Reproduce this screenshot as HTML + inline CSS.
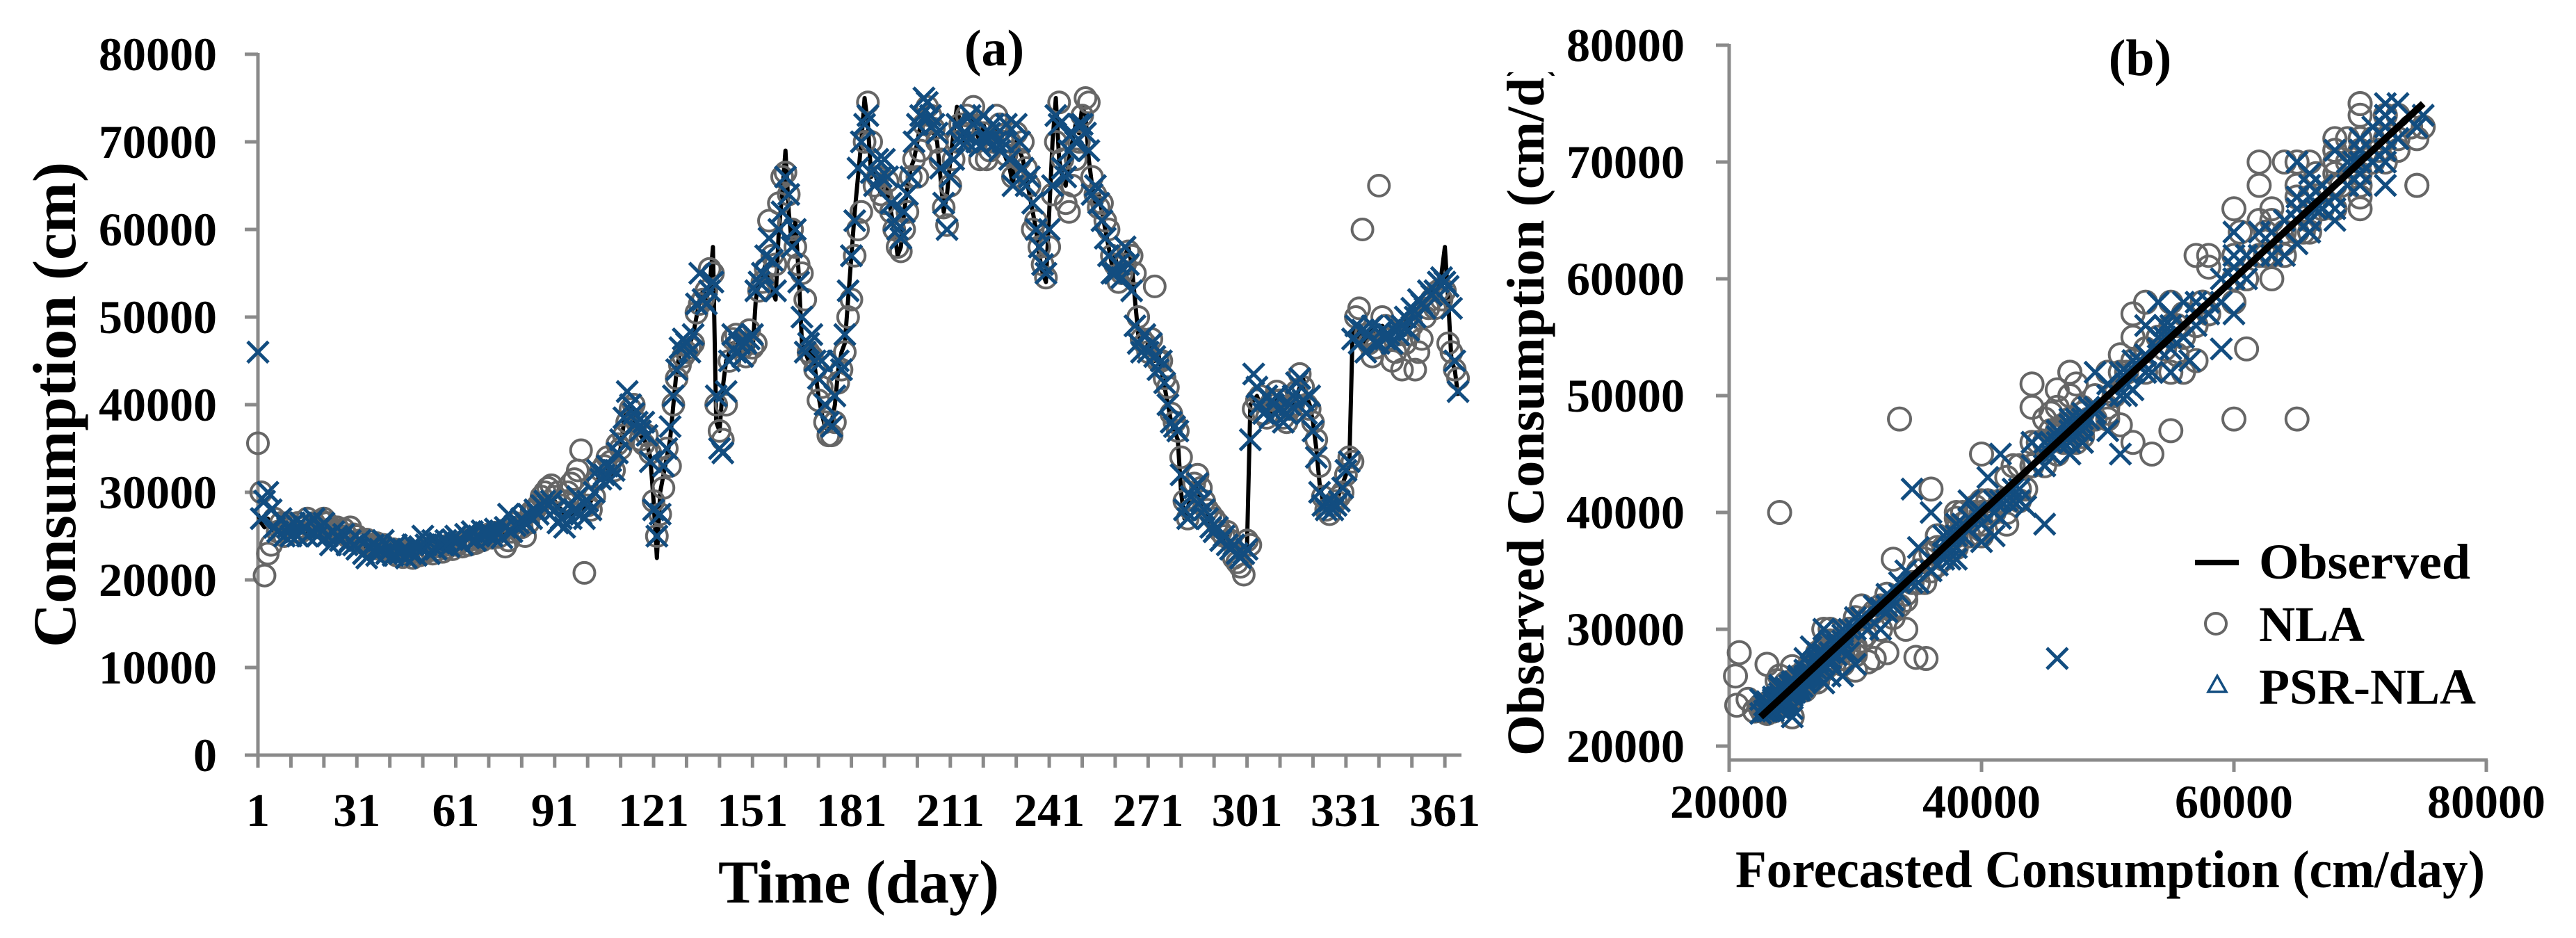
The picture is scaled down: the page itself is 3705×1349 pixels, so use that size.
<!DOCTYPE html>
<html><head><meta charset="utf-8"><style>
html,body{margin:0;padding:0;background:#fff;}
svg{display:block;font-family:"Liberation Serif",serif;font-weight:bold;}
</style></head><body>
<svg id="chart" xmlns="http://www.w3.org/2000/svg" width="3705" height="1349" viewBox="0 0 3705 1349">
<defs><clipPath id="clipb"><rect x="0" y="104" width="3705" height="1245"/></clipPath></defs>
<g id="pa">
<text x="1430" y="94" font-size="74" text-anchor="middle">(a)</text>
<text transform="translate(108,582) rotate(-90)" font-size="88" text-anchor="middle" textLength="698" lengthAdjust="spacingAndGlyphs">Consumption (cm)</text>
<text x="1235" y="1298" font-size="88" text-anchor="middle" textLength="404" lengthAdjust="spacingAndGlyphs">Time (day)</text>
<g id="pa-axes"></g>
<g id="pa-line"></g>
<g id="pa-nla"></g>
<g id="pa-psr"></g>
</g>
<g id="pb">
<text x="3078" y="108" font-size="74" text-anchor="middle">(b)</text>
<g clip-path="url(#clipb)"><text transform="translate(2220,1087) rotate(-90)" font-size="76" text-anchor="start">Observed Consumption (cm/d)</text></g>
<text x="3035" y="1276" font-size="76" text-anchor="middle" textLength="1078" lengthAdjust="spacingAndGlyphs">Forecasted Consumption (cm/day)</text>
<g id="pb-axes"></g>
<g id="pb-nla"></g>
<g id="pb-psr"></g>
<g id="pb-line"></g>
<g id="legend">
<line x1="3157" y1="809" x2="3220" y2="809" stroke="#000" stroke-width="8"/>
<text x="3249" y="832" font-size="72" textLength="304" lengthAdjust="spacingAndGlyphs">Observed</text>
<circle cx="3187" cy="897" r="15" fill="none" stroke="#666" stroke-width="4"/>
<text x="3249" y="922" font-size="72">NLA</text>
<polygon points="3189,972 3202,995 3176,995" fill="none" stroke="#124d80" stroke-width="3.5"/>
<text x="3249" y="1012" font-size="72">PSR-NLA</text>
</g>
</g>
</svg>
<script>
const days = Array.from({length:365},(_, i)=>i+1);
const observed = [
27.5,26.5,26,27,26,25.5,26,26.5,25.5,26, 25.5,26,25.5,26,26.5,25.5,26,26,25.5,25.8,
26,25.5,25.2,25,25.5,25,24.8,24.5,24.8,24.5, 24.2,24,23.8,24,23.5,23.6,23.5,23.2,23.5,23.3,
23.2,23,23.4,23.1,23,22.8,23,23.2,23,23.4, 23.2,23.5,23.3,23.6,23.8,23.5,23.8,24,24.2,24,
24.3,24.5,24.2,24.6,24.5,24.8,24.6,25,24.8,25.2, 25,25.3,25.1,25.5,25.2,25.6,25.4,25.8,26,26.3,
26.5,26.8,27,27.5,27.2,28,28.5,28.2,29,29.5, 29,28.5,28,27.5,27.8,27.2,27.5,28,27.6,28,
28.5,29,30,31.5,32,31.8,32.5,32,33,34, 35,38,39.5,40,38.5,37,36.5,36,35.5,34,
29,22.5,30,32,34,36,40,44,46,47, 46.5,47,48,50,52,53,52,53.5,58,38,
37,42,45,46,47,46.5,47.5,46,47,48, 46,52,54,55,56,54,53,52,60,64,
69,62,58,61,55,47,46,45,47,44, 41,39,37.5,37,38,40,44,46,47,52,
57,62,66,70,75,72,66,67,65,64, 66,64,62,60,57,58,62,65,67,68,
70,72,74,73,72,71,70,66,62,64, 68,71,74,72,70,71,72,73,71,70,
72,71,70,72,71,70,69,68,67,65, 70,69,68,66,64,62,60,57,55,54,
62,70,75,68,66,65,68,70,72,71, 74,73,68,65,63,64,62,60,58,56,
57,55,56,57,58,56,52,48,47,46, 47,46,45,46,44,42,40,38,37,36,
30,27,28,30,31,30,29,28,27,26.5, 26,25.5,25,24.5,25,24,23.5,23,24,23.5,
24,40,40.5,41,40,39.5,40,39,40,41, 40,39,38.5,39,40,41,42,43,41,40,
38,35,31,29,28,28.5,29,28.5,30,31, 32,33,48,48.5,47.5,48,47,48,48.5,47.5,
48,49,48,47.5,48,49,48.5,49,50,49, 50,51,50.5,51,52,52,53,53.5,54,55,
58,52,45,44,41];
const nla = [
35.6,30,20.5,23,24,27,25.5,26.5,25,26.5, 26,25.5,26.5,25.5,26,27,26,26.5,26,26.8,
27,26.5,25.8,25.5,26,25.5,25.8,25,26,25.2, 25,24.5,24.2,24.6,24,23.8,24.2,23.5,24,23.6,
23.2,23.5,22.8,23.4,22.6,23,23.3,22.5,23.2,22.8, 23,23.2,23.6,23,23.4,23.8,23.2,23.6,24,23.5,
24,24.2,23.8,24.5,24,24.6,24.2,24.8,24.5,24.8, 25.2,24.8,25.4,24.9,25.6,23.8,24.5,25.5,26.5,26,
26,25,26.5,27.8,28,28.5,29.5,30,30.5,30.8, 29.5,30,28.5,29,30,31,31.5,32.5,34.8,20.8,
28.5,28,29.5,31.5,32.5,33,34,33.5,32.5,35.5, 35,36.5,38,39.5,40,38,36,35.5,36.5,34.5,
29,25,27.5,30.5,35,33,40,43,44.5,45.5, 46,46.5,47,50.5,51.5,52,53,55.5,55,40,
37,36,40,45,47.5,48,47,46.5,45.5,48.5, 46.5,47,53,54,55.5,61,57,56,63,66,
66.5,64,60,58,56,55,52,46,45.5,44, 40.5,42,38,36.5,36.5,38,42.5,44,46,50,
52,57,60,62,70,74.5,70,65,66,64, 63,65.5,62,60,58,57.5,60,62,66,68,
66,69,72,74,73,71.5,70,68,62.5,60.5, 65,68,70,72,71,73,72,74,70,68,
71,68,69,70,73,72,70,68.5,70,66, 71,68,70,67,65,60,61,58,56,54.5,
58,64,70,74.5,68,63,62,65,68,70, 73,75,74.5,66,64,62.5,63,61,60,57,
56,54,55,56,57.5,57,55,50,47.5,47, 46,47.5,53.5,45,45,43,42,39,38,37,
34,29,27,28,31,32,30.5,29,28,27.5, 27,26.5,25.5,25,25.5,24.5,22.5,22,21.5,20.6,
24.5,24,39.5,40.5,41,39,38.5,40,40.5,41.5, 40.5,38.5,38,39.5,40,41.5,43.5,42,40,39.5,
38,36,33,29.5,28,27.5,28.5,29,29.5,30, 32,34,33.5,50,51,60,48,47,45.5,46.5,
65,50,49,47.5,45,46,48,44,47,48, 49,44,46,47.5,50,51,52,51,53,52,
53,47,46,44,43];
const psr = [
46,27,29,30,28,26,25.5,27,25,26, 25,26.5,25,26.5,26,25,26.5,27,25,26,
26.5,25,24,25.5,25,24.5,25.2,24,24.5,24, 23.5,24.5,23,22.5,23.8,24,22.8,23.5,24.5,23,
23.5,22.8,24,23,23.5,22.5,23.2,24,22.8,23.8, 25,24,23,24.5,23.5,24.2,24,24.5,23.8,24.6,
25,24.6,24,25.2,24.8,25.5,24.5,25,25.6,25.4, 25.5,25,25.8,25.2,24.8,26,27.5,25.5,26.2,26.5,
27,26.5,27.5,27,28,27.5,28.5,29,28.5,29, 28,26.5,27,26,28.5,27,28,29.5,27.5,27,
29,28,30,32.5,31.5,32,33,31.5,32.5,34.5, 36,38.5,41.5,40,39,38,37,38,36.5,33.5,
28,25,27.5,33,35,37.5,41,44,46.5,47.5, 47,46,48,51.5,55,52,51.5,53,54,41,
35,34.5,41.5,45,48,46,47,45.5,47,47.5, 48,53,54,55,57,59,56.5,53,60,62,
66,64,58,60,54,50,46,47,48,45, 43,45,40,38,37.5,41,45,44,48,53,
57,61,67,70,72,73,66.5,65,68,66, 68,66,63,61,60,59,62,64,66,70,
72,73,75,74.5,73,72,71,67,63,60, 66,68,72,70,71,70,73,72,70,69.5,
73,70,71,72,70,69,70,72,68,65, 72,70,67,65,66,63,60,58,56,55,
60,65,73,72,67,66,69,71,70,72, 72,71,69,64,65,63,61,59,57,55,
55,56,54.5,58,56,53,49,47,46,48, 46,47,45.5,44,45,42.5,40,38,37.5,37,
32,28,27,29.5,30.5,31,29,28,27,26, 25.5,26,24.5,25,24,23.5,24,23,22.5,23,
23.5,36,43.5,42,40,39,41,38.5,40,41, 39.5,38,39,40,41,42.5,43,40.5,39,41,
37,34,30,28.5,28,29,28,28.5,29,30.5, 32.5,33.5,47.5,49,47,48.5,46,48,49,47,
47,48.5,47.5,48,47,49,48,49,50,48.5, 51,50,52,51.5,51,53,52.5,53,54,54.5,
54,53.5,51,45,41.5];
const dayTicks = [1,31,61,91,121,151,181,211,241,271,301,331,361];
const aYTicks = [0,10000,20000,30000,40000,50000,60000,70000,80000];
const bXTicks = [20000,40000,60000,80000];
const bYTicks = [20000,30000,40000,50000,60000,70000,80000];

const NS = "http://www.w3.org/2000/svg";
function mk(tag, attrs, parent){const e=document.createElementNS(NS,tag);for(const k in attrs)e.setAttribute(k,attrs[k]);parent.appendChild(e);return e;}
const ax = d => 371 + (d-1)*4.742;
const ay = v => 1086 - v*0.0126;
const bx = v => 2487 + (v-20000)/60000*1089;
const by = v => 1073 - (v-20000)/60000*1008;
const AX = '#8a8a8a';

const gaa = document.getElementById('pa-axes');
let e;
e = mk('line',{x1:371,y1:ay(80000)-2,x2:371,y2:1086,stroke:AX,'stroke-width':5},gaa);


e = mk('line',{x1:352,y1:1086,x2:2102,y2:1086,stroke:AX,'stroke-width':5},gaa);


for (let d=1; d<=361; d+=10){
  e = mk('line',{x1:ax(d),y1:1086,x2:ax(d),y2:1104,stroke:AX,'stroke-width':5},gaa);
  
  
}
dayTicks.forEach(d=>{
  e = mk('text',{x:ax(d),y:1188,'font-size':68,'text-anchor':'middle'},gaa);
  e.textContent = d;
  
  
});
aYTicks.forEach(v=>{
  e = mk('line',{x1:352,y1:ay(v),x2:371,y2:ay(v),stroke:AX,'stroke-width':5},gaa);
  
  
  e = mk('text',{x:312,y:ay(v)+23,'font-size':68,'text-anchor':'end'},gaa);
  e.textContent = v;
  
  
});
const la = document.getElementById('pa-line');
e = mk('polyline',{points:days.map((d,i)=>ax(d)+','+ay(observed[i]*1000)).join(' '),fill:'none',stroke:'#000','stroke-width':6,'stroke-linejoin':'round'},la);


function cross(g,x,y,name){
  const s=15;
  e = mk('path',{d:`M${x-s},${y-s}L${x+s},${y+s}M${x-s},${y+s}L${x+s},${y-s}`,stroke:'#124d80','stroke-width':5,fill:'none'},g);
  
  
}
const gan = document.getElementById('pa-nla');
days.forEach((d,i)=>{
  e = mk('circle',{cx:ax(d),cy:ay(nla[i]*1000),r:15,fill:'none',stroke:'#666','stroke-width':4},gan);
  
  
});
const gap = document.getElementById('pa-psr');
days.forEach((d,i)=>{ cross(gap, ax(d), ay(psr[i]*1000), 'psr-nla-point'); });

const gba = document.getElementById('pb-axes');
e = mk('line',{x1:2487,y1:by(80000)-2,x2:2487,y2:1093,stroke:AX,'stroke-width':5},gba);


e = mk('line',{x1:2487,y1:1093,x2:3578,y2:1093,stroke:AX,'stroke-width':5},gba);


bXTicks.forEach(v=>{
  e = mk('line',{x1:bx(v),y1:1093,x2:bx(v),y2:1110,stroke:AX,'stroke-width':5},gba);
  
  
  e = mk('text',{x:bx(v),y:1176,'font-size':68,'text-anchor':'middle'},gba);
  e.textContent = v;
  
  
});
bYTicks.forEach(v=>{
  e = mk('line',{x1:2468,y1:by(v),x2:2487,y2:by(v),stroke:AX,'stroke-width':5},gba);
  
  
  e = mk('text',{x:2423,y:by(v)+23,'font-size':68,'text-anchor':'end'},gba);
  e.textContent = v;
  
  
});
const gbn = document.getElementById('pb-nla');
days.forEach((d,i)=>{
  e = mk('circle',{cx:bx(nla[i]*1000),cy:by(observed[i]*1000),r:16,fill:'none',stroke:'#666','stroke-width':4},gbn);
  
  
});
const gbp = document.getElementById('pb-psr');
days.forEach((d,i)=>{ cross(gbp, bx(psr[i]*1000), by(observed[i]*1000), 'scatter-psr-nla-point'); });
const lo = Math.min(...observed)*1000, hi = Math.max(...observed)*1000;
e = mk('line',{x1:bx(lo),y1:by(lo),x2:bx(hi),y2:by(hi),stroke:'#000','stroke-width':10},document.getElementById('pb-line'));


</script>
</body></html>
